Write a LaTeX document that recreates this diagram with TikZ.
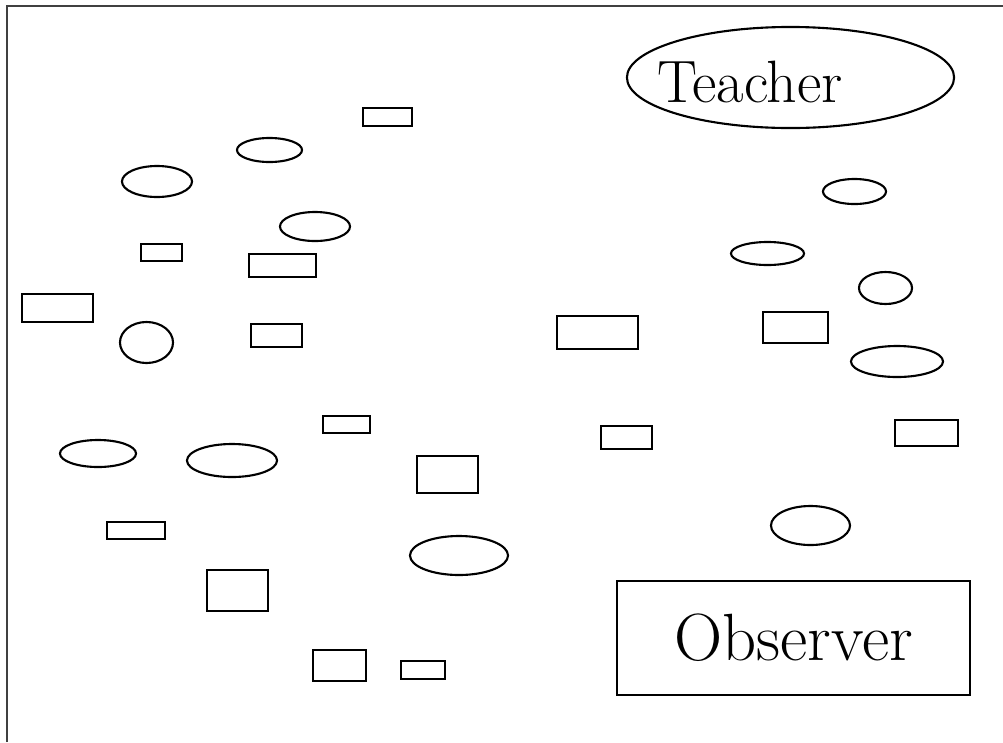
\documentclass[tikz,border=0pt]{standalone}
\usepackage{tikz}
\usetikzlibrary{shapes.geometric}

\tikzset{
  oval/.style 2 args={ellipse, draw, line width=0.6pt, inner sep=0pt, minimum width=#1, minimum height=#2},
  box/.style 2 args={rectangle, draw, line width=0.6pt, inner sep=0pt, minimum width=#1, minimum height=#2},
  scrawl/.style={font=\fontsize{17}{19}\selectfont}
}

\begin{document}
\begin{tikzpicture}[x=0.01cm, y=-0.01cm]
\useasboundingbox (0,0) rectangle (1003,742);
\fill[white] (0,0) rectangle (1003,742);
\draw[line width=0.6pt, black!75] (7,742) -- (7,6) -- (1003,6);

% teacher and observer
\node[oval={3.27cm}{1.01cm}] (teacher) at (790.5,77.5) {};
\node[scrawl, anchor=base] (teachertxt) at (750,102) {Teacher};
\node[box={3.53cm}{1.14cm}, font=\fontsize{19}{21}\selectfont] (observer) at (793.5,638) {Observer};

% ovals
\node[oval={0.65cm}{0.24cm}] (o1) at (269.5,150) {};
\node[oval={0.70cm}{0.31cm}] (o2) at (157,181.5) {};
\node[oval={0.70cm}{0.29cm}] (o3) at (315,226.5) {};
\node[oval={0.53cm}{0.41cm}] (o4) at (146.5,342.5) {};
\node[oval={0.76cm}{0.27cm}] (o5) at (98,453.5) {};
\node[oval={0.90cm}{0.33cm}] (o6) at (232,460.5) {};
\node[oval={0.98cm}{0.39cm}] (o7) at (459,555.5) {};
\node[oval={0.63cm}{0.25cm}] (o8) at (854.5,191.5) {};
\node[oval={0.73cm}{0.23cm}] (o9) at (767.5,253.5) {};
\node[oval={0.53cm}{0.32cm}] (o10) at (885.5,288) {};
\node[oval={0.92cm}{0.31cm}] (o11) at (897,361.5) {};
\node[oval={0.79cm}{0.39cm}] (o12) at (810.5,525.5) {};

% boxes
\node[box={0.49cm}{0.18cm}] (b1) at (387.5,117) {};
\node[box={0.41cm}{0.17cm}] (b2) at (161.5,252.5) {};
\node[box={0.67cm}{0.23cm}] (b3) at (282.5,265.5) {};
\node[box={0.71cm}{0.28cm}] (b4) at (57.5,308) {};
\node[box={0.51cm}{0.23cm}] (b5) at (276.5,335.5) {};
\node[box={0.47cm}{0.17cm}] (b6) at (346.5,424.5) {};
\node[box={0.61cm}{0.37cm}] (b7) at (447.5,474.5) {};
\node[box={0.58cm}{0.17cm}] (b8) at (136,530.5) {};
\node[box={0.61cm}{0.41cm}] (b9) at (237.5,590.5) {};
\node[box={0.53cm}{0.31cm}] (b10) at (339.5,665.5) {};
\node[box={0.44cm}{0.18cm}] (b11) at (423,670) {};
\node[box={0.81cm}{0.33cm}] (b12) at (597.5,332.5) {};
\node[box={0.65cm}{0.31cm}] (b13) at (795.5,327.5) {};
\node[box={0.51cm}{0.23cm}] (b14) at (626.5,437.5) {};
\node[box={0.63cm}{0.26cm}] (b15) at (926.5,433) {};
\end{tikzpicture}
\end{document}
